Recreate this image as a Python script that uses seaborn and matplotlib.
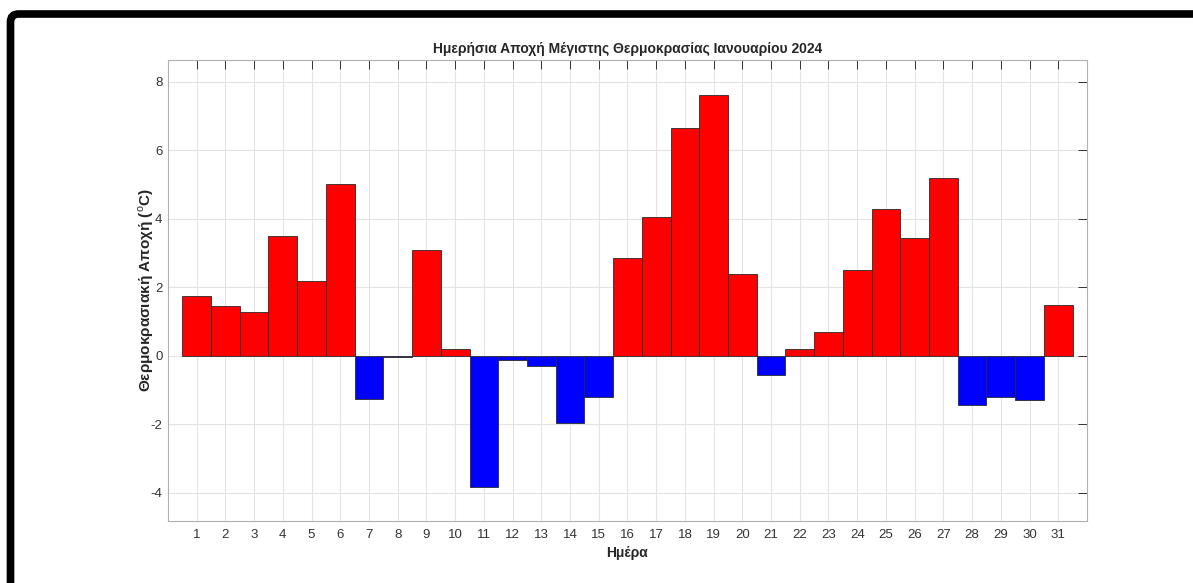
import numpy as np
import pandas as pd
import seaborn as sns
import matplotlib.pyplot as plt
from matplotlib.patches import FancyBboxPatch
from matplotlib.transforms import IdentityTransform

# ημέρες Ιανουαρίου και αποχή μέγιστης θερμοκρασίας (°C)
days = list(range(1, 32))
anomaly = [1.74, 1.45, 1.28, 3.50, 2.18, 5.00, -1.26, -0.03, 3.08, 0.20,
           -3.83, -0.12, -0.29, -1.95, -1.21, 2.86, 4.04, 6.65, 7.60, 2.39,
           -0.57, 0.19, 0.70, 2.50, 4.28, 3.45, 5.20, -1.44, -1.21, -1.29,
           1.49]
ytick_vals = [-4, -2, 0, 2, 4, 6, 8]

title = 'Ημερήσια Αποχή Μέγιστης Θερμοκρασίας Ιανουαρίου 2024'
xlab = 'Ημέρα'
ylab = r'Θερμοκρασιακή Αποχή ($^{\mathrm{o}}$C)'

df = pd.DataFrame({'day': days, 'anom': anomaly})
df['sign'] = np.where(df['anom'] >= 0, 'pos', 'neg')

sns.set_style('white')
plt.rcParams['font.family'] = ['Liberation Sans', 'DejaVu Sans']
plt.rcParams['mathtext.fontset'] = 'custom'
plt.rcParams['mathtext.rm'] = 'Liberation Sans'

fig = plt.figure(figsize=(11.93, 5.83), dpi=100)
ax = fig.add_axes([0.1408, 0.1063, 0.7703, 0.7908])

sns.barplot(data=df, x='day', y='anom', hue='sign',
            palette={'pos': '#ff0000', 'neg': '#0000ff'}, saturation=1,
            native_scale=True, width=1, dodge=False,
            edgecolor='#2a2a2a', linewidth=0.6, legend=False, ax=ax, zorder=3)

ax.set_xlim(0, 32)
ax.set_ylim(-4.82, 8.63)
ax.set_xticks(days)
ax.set_xticklabels([str(d) for d in days])
ax.set_yticks(ytick_vals)
ax.set_yticklabels([str(v) for v in ytick_vals])

ax.grid(True, color='#e4e4e4', linewidth=0.8, zorder=0)
ax.set_axisbelow(True)
ax.tick_params(direction='in', length=6.5, width=0.7, color='#333333',
               labelsize=9.5, labelcolor='#333333', top=True, right=True)
ax.tick_params(axis='x', pad=6)
ax.tick_params(axis='y', pad=4)
for s in ax.spines.values():
    s.set_color('#b0b0b0')
    s.set_linewidth(0.8)

ax.set_title(title, fontsize=10, fontweight='bold', pad=5)
ax.set_xlabel(xlab, fontsize=10, fontweight='bold', labelpad=3, color='#262626')
ax.set_ylabel(ylab, fontsize=11, fontweight='bold', labelpad=-4, color='#262626')

# μαύρο πλαίσιο (μόνο πάνω και αριστερά φαίνεται)
frame = FancyBboxPatch((10.5, -40), 1250, 609,
                       boxstyle='round,pad=0,rounding_size=8',
                       transform=IdentityTransform(), fill=False,
                       edgecolor='black', linewidth=5.5)
fig.patches.append(frame)

fig.savefig('out.png', dpi=100)
